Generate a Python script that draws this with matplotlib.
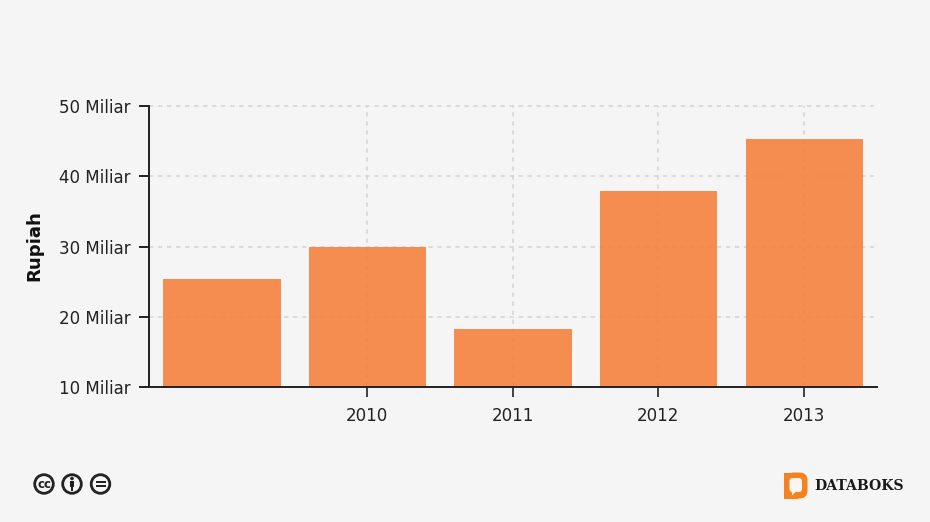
import matplotlib
matplotlib.use("Agg")
import matplotlib.pyplot as plt
from matplotlib.patches import Circle, Polygon, FancyBboxPatch, Rectangle

# data
years = ["", "2010", "2011", "2012", "2013"]
values = [25.4, 30.0, 18.3, 37.9, 45.3]
y_ticks = [10, 20, 30, 40, 50]
y_labels = ["10 Miliar", "20 Miliar", "30 Miliar", "40 Miliar", "50 Miliar"]

W, H = 930, 522
bg = "#f5f5f5"
text_c = "#222222"

plt.rcParams["font.family"] = ["DejaVu Sans"]
fig = plt.figure(figsize=(W / 100, H / 100), dpi=100, facecolor=bg)

left, right, top, bottom = 148.5, 876.5, 106, 387
ax = fig.add_axes([left / W, 1 - bottom / H, (right - left) / W, (bottom - top) / H], facecolor=bg)

x = list(range(len(years)))
ax.set_xlim(-0.5, 4.5)
ax.set_ylim(10, 50)

# grid stops a bit before the right edge, first category has no line
dash = (0, (2.8, 3.1))
ax.hlines(y_ticks[1:], -0.5, 4.48, colors="#d4d4d4", linestyles=dash, linewidth=1.1, zorder=1, clip_on=False)
ax.vlines(x[1:], 10, 50, colors="#d4d4d4", linestyles=dash, linewidth=1.1, zorder=1, clip_on=False)

ax.bar([i + 0.004 for i in x], values, width=0.806, color="#f58342", alpha=0.92, linewidth=0, zorder=2)

for s in ["top", "right"]:
    ax.spines[s].set_visible(False)
for s in ["left", "bottom"]:
    ax.spines[s].set_linewidth(1.4)
    ax.spines[s].set_color("#222222")

ax.set_yticks(y_ticks, y_labels)
ax.set_xticks(x[1:], years[1:])
ax.tick_params(axis="y", length=7, width=1.4, color="#222222", labelsize=12, labelcolor=text_c, pad=6)
ax.tick_params(axis="x", length=7, width=1.2, color="#222222", labelsize=12, labelcolor=text_c, pad=7.5)
fig.text(34 / W, 1 - 245.5 / H, "Rupiah", rotation=90, ha="center", va="center",
         fontsize=13.1, fontweight="bold", color="#111111")

# overlay in pixel coordinates for the footer marks
ov = fig.add_axes([0, 0, 1, 1], facecolor="none")
ov.set_xlim(0, W)
ov.set_ylim(H, 0)
ov.axis("off")

ink = "#222222"
for cx in [44, 72, 100.5]:
    ov.add_patch(Circle((cx, 484), 9.3, facecolor="none", edgecolor=ink, linewidth=2))
ov.text(44, 484.3, "cc", ha="center", va="center", fontsize=8.5, fontweight="bold", color=ink)
ov.add_patch(Circle((72, 478.5), 1.8, color=ink, linewidth=0))
ov.add_patch(Rectangle((69.6, 481), 4.8, 5.5, color=ink, linewidth=0))
ov.add_patch(Rectangle((70.8, 486), 2.4, 4.5, color=ink, linewidth=0))
ov.add_patch(Rectangle((95.5, 481), 10, 2, color=ink, linewidth=0))
ov.add_patch(Rectangle((95.5, 485), 10, 2, color=ink, linewidth=0))

# databoks logo
orange = "#f58220"
ov.add_patch(Rectangle((783.5, 472.5), 14, 26, color=orange, linewidth=0))
ov.add_patch(FancyBboxPatch((786, 472.5), 21.5, 26, boxstyle="round,pad=0,rounding_size=8", color=orange, linewidth=0))
ov.add_patch(FancyBboxPatch((789.5, 478), 12.5, 14, boxstyle="round,pad=0,rounding_size=3", color="#fbf6f0", linewidth=0))
ov.add_patch(Polygon([(791.5, 491), (796, 491), (792.5, 495.5)], closed=True, color="#fbf6f0", linewidth=0))
ov.text(814.5, 486, "DATABOKS", ha="left", va="center", family="DejaVu Serif",
        fontsize=10.1, fontweight="bold", color="#1a1a1a")

fig.savefig("out.png", dpi=100, facecolor=bg)
